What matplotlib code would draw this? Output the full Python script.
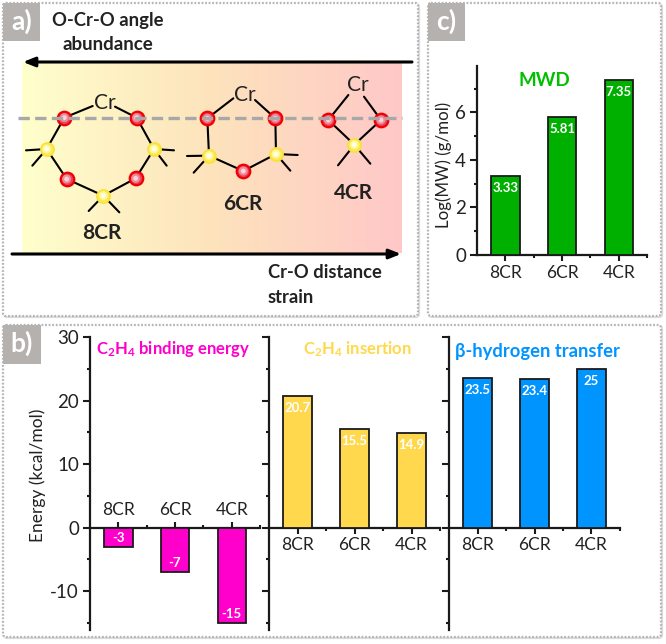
import numpy as np
import matplotlib
matplotlib.use("Agg")
import matplotlib.pyplot as plt
from matplotlib.colors import LinearSegmentedColormap
from matplotlib.patches import FancyBboxPatch, Rectangle
from matplotlib.ticker import FixedLocator

plt.rcParams['font.family'] = ['Lato', 'Open Sans', 'DejaVu Sans']
plt.rcParams['mathtext.fontset'] = 'custom'
plt.rcParams['mathtext.rm'] = 'Lato'
plt.rcParams['mathtext.bf'] = 'Lato:bold'
plt.rcParams['axes.unicode_minus'] = False

W, H = 666, 644
categories = ['8CR', '6CR', '4CR']
binding = [-3, -7, -15]
insertion = [20.7, 15.5, 14.9]
transfer = [23.5, 23.4, 25]
mwd = [3.33, 5.81, 7.35]
binding_labels = ['-3', '-7', '-15']
insertion_labels = ['20.7', '15.5', '14.9']
transfer_labels = ['23.5', '23.4', '25']
mwd_labels = ['3.33', '5.81', '7.35']

MAGENTA, YELLOW, BLUE, GREEN = '#FF00CC', '#FFD84D', '#0094FF', '#00B000'
DARK = '#1a1a1a'
TXT = '#222222'

fig = plt.figure(figsize=(W / 100, H / 100), dpi=100, facecolor='white')
bg = fig.add_axes([0, 0, 1, 1], zorder=0)
bg.set_xlim(0, W)
bg.set_ylim(H, 0)
bg.axis('off')

# ---------- panel frames and tags
frames = [(3, 3, 415, 313), (428, 3, 233, 313), (3, 325, 658, 312)]
tags = [(3, 3, 37, 38, 'a)'), (428, 3, 37, 38, 'c)'), (3, 325, 38, 39, 'b)')]
for x, y, w, h in frames:
    bg.add_patch(FancyBboxPatch((x + 1, y + 1), w, h, boxstyle='round,pad=0,rounding_size=3',
                                fc='none', ec='#dddddd', lw=1.6, zorder=1))
    bg.add_patch(FancyBboxPatch((x, y), w, h, boxstyle='round,pad=0,rounding_size=3',
                                fc='white', ec='#b4b4b4', lw=1.6, ls=(0, (0.8, 0.8)), zorder=1.1))
for x, y, w, h, t in tags:
    bg.add_patch(Rectangle((x, y), w, h, fc='#B4B1AE', ec='none', zorder=2))
    bg.text(x + w / 2, y + h / 2 - 1, t, color='white', fontsize=19, fontweight='bold',
            ha='center', va='center', zorder=3)

# ---------- panel a schematic
cmap = LinearSegmentedColormap.from_list('g', ['#FFFFCC', '#FDE3BC', '#FFC8C8'])
bg.imshow(np.linspace(0, 1, 256)[None, :], cmap=cmap, extent=(22, 402, 253, 62),
          aspect='auto', zorder=1.5)
bg.set_xlim(0, W)
bg.set_ylim(H, 0)

S = 1 / 3
red_atoms = [(193, 353), (410, 353), (200, 537), (407, 535),
             (622, 355), (826, 355), (730, 513),
             (985, 360), (1143, 360)]
yellow_atoms = [(140, 447), (462, 447), (310, 587),
                (627, 467), (828, 462), (1063, 434)]
bonds = [
    ((193, 353), (278, 318)), ((345, 320), (410, 353)),
    ((193, 353), (140, 447)), ((140, 447), (200, 537)), ((200, 537), (310, 587)),
    ((310, 587), (407, 535)), ((407, 535), (462, 447)), ((462, 447), (410, 353)),
    ((140, 447), (78, 451)), ((140, 447), (97, 497)),
    ((462, 447), (522, 451)), ((462, 447), (500, 497)),
    ((310, 587), (266, 633)), ((310, 587), (358, 637)),
    ((622, 355), (700, 295)), ((765, 300), (826, 355)),
    ((622, 355), (627, 467)), ((627, 467), (730, 513)),
    ((730, 513), (828, 462)), ((828, 462), (826, 355)),
    ((627, 467), (561, 468)), ((627, 467), (581, 518)),
    ((828, 462), (893, 465)), ((828, 462), (871, 512)),
    ((985, 360), (1045, 285)), ((1092, 290), (1143, 360)),
    ((985, 360), (1063, 434)), ((1063, 434), (1143, 360)),
    ((1063, 434), (1014, 496)), ((1063, 434), (1111, 491)),
]
for (x0, y0), (x1, y1) in bonds:
    bg.plot([x0 * S, x1 * S], [y0 * S, y1 * S], color='black', lw=1.5, zorder=3,
            solid_capstyle='round')
for x, y in red_atoms:
    bg.scatter(x * S, y * S, s=95, fc='#E8405C', ec='#F00000', lw=1.6, zorder=4)
    bg.scatter(x * S, y * S, s=42, fc='#F08A9A', ec='none', zorder=4.1)
    bg.scatter(x * S, y * S, s=12, fc='#F9D5D8', ec='none', zorder=4.2)
for x, y in yellow_atoms:
    bg.scatter(x * S, y * S, s=90, fc='#FFE850', ec='#F7E23C', lw=1.2, zorder=4)
    bg.scatter(x * S, y * S, s=40, fc='#FFF7A0', ec='none', zorder=4.1)
    bg.scatter(x * S, y * S, s=12, fc='#FFFFE8', ec='none', zorder=4.2)
bg.plot([18, 402], [118, 118], color='#A8A8A8', lw=2.4, ls=(0, (3.4, 1.6)), zorder=5)

for x0, x1, y in [(412, 23, 62), (12, 401, 254)]:
    bg.annotate('', xy=(x1, y), xytext=(x0, y), zorder=6,
                arrowprops=dict(arrowstyle='-|>,head_length=0.7,head_width=0.28',
                                color='black', lw=2.2, shrinkA=0, shrinkB=0))

for x, y, t in [(105, 103, 'Cr'), (244.5, 94.5, 'Cr'), (358, 85, 'Cr')]:
    bg.text(x, y, t, fontsize=15, color=TXT, ha='center', va='center', zorder=6)
for x, y, t in [(102, 233, '8CR'), (243, 204, '6CR'), (354, 193, '4CR')]:
    bg.text(x, y, t, fontsize=15, fontweight='bold', color=TXT, ha='center', va='center', zorder=6)
bg.text(108, 20, 'O-Cr-O angle', fontsize=13.3, fontweight='bold', color=TXT, ha='center', va='center', zorder=6)
bg.text(108, 44.5, 'abundance', fontsize=13.5, fontweight='bold', color=TXT, ha='center', va='center', zorder=6)
bg.text(268, 272, 'Cr-O distance', fontsize=13.2, fontweight='bold', color=TXT, ha='left', va='center', zorder=6)
bg.text(268, 297, 'strain', fontsize=13.2, fontweight='bold', color=TXT, ha='left', va='center', zorder=6)


def px_axes(l, r, t, b):
    ax = fig.add_axes([l / W, 1 - b / H, (r - l) / W, (b - t) / H], zorder=5)
    ax.patch.set_alpha(0)
    return ax


def style(ax, ylim, ymajor, yminor, show_y, top_labels=False):
    ax.set_xlim(-0.5, 2.5)
    ax.set_ylim(*ylim)
    ax.spines['right'].set_visible(False)
    ax.yaxis.set_major_locator(FixedLocator(ymajor))
    ax.yaxis.set_minor_locator(FixedLocator(yminor))
    ax.set_xticks(range(3), categories)
    ax.xaxis.set_minor_locator(FixedLocator([0.5, 1.5, 2.5]))
    for s in ['left', 'top', 'bottom']:
        ax.spines[s].set_linewidth(1.6)
        ax.spines[s].set_color(DARK)
    if top_labels:
        ax.xaxis.tick_top()
        ax.spines['bottom'].set_visible(False)
        ax.spines['top'].set_position(('data', 0))
    else:
        ax.spines['top'].set_visible(False)
        ax.spines['bottom'].set_position(('data', 0))
    ax.tick_params(axis='x', which='major', length=4, width=1.5, labelsize=12.5,
                   pad=3, color=DARK, labelcolor=TXT)
    ax.tick_params(axis='x', which='minor', length=2, width=1.5, color=DARK)
    ax.tick_params(axis='y', which='major', length=5, width=1.5, labelsize=13.5,
                   pad=3, color=DARK, labelcolor=TXT, labelleft=show_y)
    ax.tick_params(axis='y', which='minor', length=2.5, width=1.5, color=DARK)


def bars(ax, vals, labels, color):
    ax.bar(range(3), vals, width=0.5, color=color, edgecolor=DARK, lw=1.3, zorder=3)
    for i, (v, t) in enumerate(zip(vals, labels)):
        off = -8.5 if v > 0 else 6.5
        ax.annotate(t, (i, v), xytext=(0, off), textcoords='offset points', color='white',
                    fontsize=9.5, fontweight='bold', ha='center', va='center', zorder=4)


ylim_b = (-16.1, 30)
maj_b = [-10, 0, 10, 20, 30]
min_b = [-15, -5, 5, 15, 25]

a1 = px_axes(90, 260, 337, 630)
style(a1, ylim_b, maj_b, min_b, True, top_labels=True)
bars(a1, binding, binding_labels, MAGENTA)
a1.set_ylabel('Energy (kcal/mol)', fontsize=12.5, color=TXT, va='center')
a1.yaxis.set_label_coords((38 - 90) / 170, (630 - 475) / 293)

a2 = px_axes(269, 440, 337, 630)
style(a2, ylim_b, maj_b, min_b, False)
bars(a2, insertion, insertion_labels, YELLOW)

a3 = px_axes(449, 620, 337, 630)
style(a3, ylim_b, maj_b, min_b, False)
bars(a3, transfer, transfer_labels, BLUE)

c = px_axes(477, 647, 66, 255)
style(c, (0, 7.95), [0, 2, 4, 6], [1, 3, 5, 7], True)
bars(c, mwd, mwd_labels, GREEN)
c.set_ylabel('Log(MW) (g/mol)', fontsize=12.2, color=TXT, va='center')
c.yaxis.set_label_coords((444 - 477) / 170, (255 - 165) / 189)

bg.text(173, 349, r'$\mathbf{C_2H_4}$ binding energy', color=MAGENTA, fontsize=12,
        fontweight='bold', ha='center', va='center', zorder=6)
bg.text(357, 349, r'$\mathbf{C_2H_4}$ insertion', color=YELLOW, fontsize=12,
        fontweight='bold', ha='center', va='center', zorder=6)
bg.text(537, 351, 'β-hydrogen transfer', color=BLUE, fontsize=13.2,
        fontweight='bold', ha='center', va='center', zorder=6)
bg.text(544, 80, 'MWD', color='#00C000', fontsize=13.5, fontweight='bold',
        ha='center', va='center', zorder=6)

fig.savefig('out.png', dpi=100)
